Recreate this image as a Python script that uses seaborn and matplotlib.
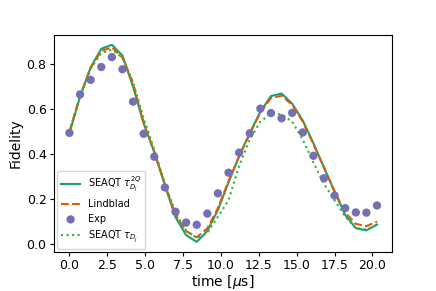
import numpy as np
import pandas as pd
import matplotlib
matplotlib.use("Agg")
import matplotlib.pyplot as plt
import seaborn as sns

time = [0.0, 0.7, 1.4, 2.1, 2.8, 3.5, 4.2, 4.9, 5.6, 6.3, 7.0, 7.7, 8.4, 9.1, 9.8,
        10.5, 11.2, 11.9, 12.6, 13.3, 14.0, 14.7, 15.4, 16.1, 16.8, 17.5, 18.2, 18.9, 19.6, 20.3]

seaqt_2q = [0.495, 0.655, 0.786, 0.869, 0.887, 0.839, 0.700, 0.536, 0.409, 0.262, 0.120, 0.040,
            0.010, 0.058, 0.152, 0.275, 0.392, 0.494, 0.589, 0.659, 0.670, 0.625, 0.550, 0.449,
            0.341, 0.233, 0.130, 0.071, 0.061, 0.087]
lindblad = [0.500, 0.660, 0.785, 0.860, 0.875, 0.830, 0.715, 0.540, 0.410, 0.265, 0.130, 0.058,
            0.030, 0.070, 0.160, 0.280, 0.390, 0.490, 0.585, 0.650, 0.660, 0.620, 0.545, 0.445,
            0.340, 0.235, 0.140, 0.090, 0.080, 0.100]
exp = [0.495, 0.666, 0.731, 0.788, 0.832, 0.778, 0.634, 0.491, 0.389, 0.252, 0.144, 0.096,
       0.086, 0.136, 0.226, 0.318, 0.407, 0.493, 0.603, 0.583, 0.560, 0.584, 0.497, 0.393,
       0.293, 0.216, 0.160, 0.141, 0.140, 0.172]
seaqt_tau = [0.500, 0.660, 0.780, 0.850, 0.865, 0.830, 0.720, 0.560, 0.420, 0.270, 0.140, 0.060,
             0.028, 0.050, 0.122, 0.195, 0.348, 0.465, 0.545, 0.581, 0.577, 0.545, 0.465, 0.363,
             0.268, 0.195, 0.122, 0.071, 0.065, 0.087]

labels = [r'SEAQT $\tau_{D_j}^{2Q}$', 'Lindblad', 'Exp', r'SEAQT $\tau_{D_j}$']
xticks = [0.0, 2.5, 5.0, 7.5, 10.0, 12.5, 15.0, 17.5, 20.0]

fig, ax = plt.subplots(figsize=(4.36, 2.91), dpi=100)
fig.subplots_adjust(left=0.124, right=0.9, top=0.88, bottom=0.135)

df1 = pd.DataFrame({'t': time, 'F': seaqt_2q})
df2 = pd.DataFrame({'t': time, 'F': lindblad})
df3 = pd.DataFrame({'t': time, 'F': exp})
df4 = pd.DataFrame({'t': time, 'F': seaqt_tau})

sns.lineplot(data=df1, x='t', y='F', ax=ax, color='#1b9e77', linewidth=1.5, label=labels[0])
sns.lineplot(data=df2, x='t', y='F', ax=ax, color='#d95f02', linewidth=1.5, linestyle='--', label=labels[1])
sns.scatterplot(data=df3, x='t', y='F', ax=ax, color='#7570b3', s=36, edgecolor='none', label=labels[2], zorder=3)
sns.lineplot(data=df4, x='t', y='F', ax=ax, color='#33b033', linewidth=1.5, linestyle=':', label=labels[3])

ax.set_xlabel(r'time [$\mu$s]', fontsize=10, labelpad=0.5)
ax.set_ylabel('Fidelity', fontsize=10, labelpad=3)
ax.set_xticks(xticks)
ax.tick_params(labelsize=9, length=2.8, pad=2.6)
ax.legend(loc='lower left', fontsize=7, borderaxespad=0.3)

fig.savefig('out.png', dpi=100)
